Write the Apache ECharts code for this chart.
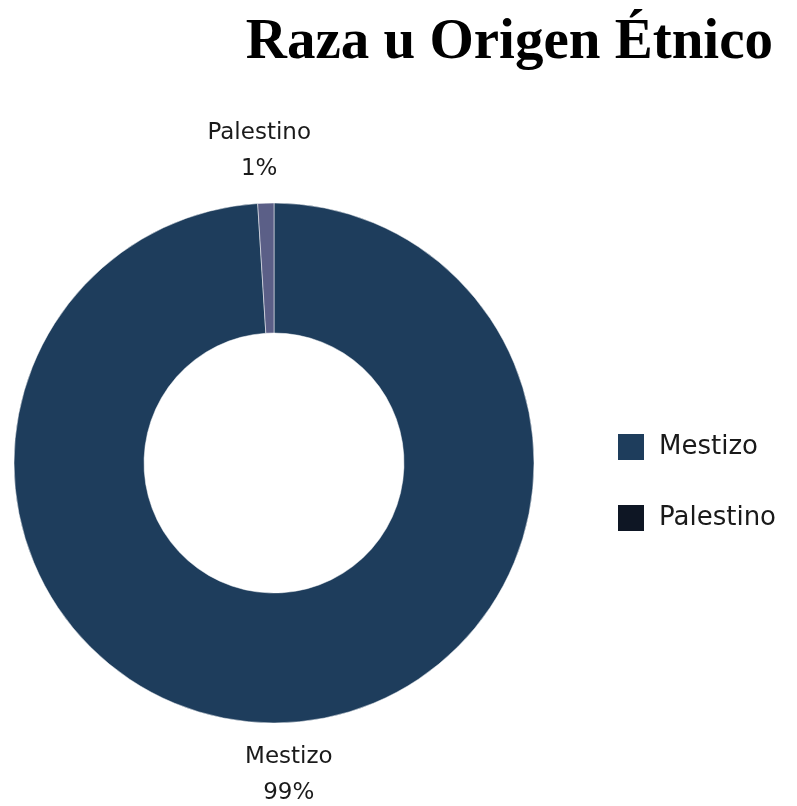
<!DOCTYPE html>
<html>
<head>
<meta charset="utf-8">
<script src="https://cdn.jsdelivr.net/npm/echarts@6/dist/echarts.min.js"></script>
<style>
  html, body { margin: 0; padding: 0; background: #ffffff; }
  #chart { width: 797px; height: 806px; }
</style>
</head>
<body>
<div id="chart"></div>
<script>
// chart data
var categories = ['Mestizo', 'Palestino'];
var values = [99, 1];
var slice_colors = ['#1e3d5c', '#5b5f87'];
var legend_colors = ['#1e3d5c', '#0e1624'];

var chart = document.getElementById('chart');
var myChart = echarts.init(chart);

var pie_data = [];
var legend_data = [];
for (var i = 0; i < categories.length; i++) {
    pie_data.push({ name: categories[i], value: values[i], itemStyle: { color: slice_colors[i] } });
    legend_data.push({ name: categories[i], itemStyle: { color: legend_colors[i] } });
}

var option = {
    animation: false,
    title: {
        text: 'Raza u Origen Étnico',
        right: 19,
        top: 10,
        textStyle: {
            fontFamily: 'Liberation Serif',
            fontWeight: 'bold',
            fontSize: 57,
            color: '#000000'
        }
    },
    legend: {
        orient: 'vertical',
        left: 616,
        top: 432,
        padding: 0,
        itemWidth: 28,
        itemHeight: 28,
        itemGap: 41,
        icon: 'rect',
        data: legend_data,
        textStyle: {
            fontFamily: 'DejaVu Sans',
            fontSize: 26,
            color: '#1a1a1a',
            padding: [0, 0, 0, 9]
        }
    },
    series: [
        {
            type: 'pie',
            center: [274, 463],
            radius: [130, 260],
            startAngle: 90,
            clockwise: true,
            avoidLabelOverlap: false,
            data: pie_data,
            itemStyle: { borderColor: '#ffffff', borderWidth: 0.5 },
            label: {
                show: true,
                position: 'outside',
                formatter: '{b}\n{d}%',
                fontFamily: 'DejaVu Sans',
                fontSize: 23,
                lineHeight: 36,
                color: '#1a1a1a'
            },
            labelLine: { show: false, length: 52, length2: 0 },
            labelLayout: function () {
                return { align: 'center' };
            }
        }
    ]
};

myChart.setOption(option);
</script>
</body>
</html>
